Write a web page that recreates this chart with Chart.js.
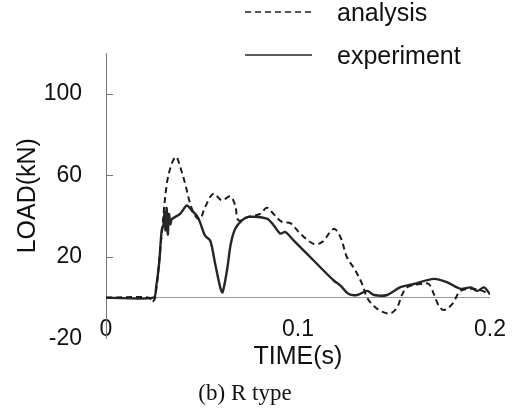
<!DOCTYPE html>
<html>
<head>
<meta charset="utf-8">
<script src="https://cdn.jsdelivr.net/npm/chart.js@4.4.1/dist/chart.umd.min.js"></script>
<style>
  body { margin: 0; background: #fff; }
</style>
</head>
<body>
<canvas id="myChart" width="516" height="412"></canvas>
<script>
var seriesNames = ['analysis', 'experiment'];

var anaTime = [0, 0.0225, 0.0238, 0.0256, 0.029, 0.0317, 0.0343, 0.0365, 0.0386, 0.0412, 0.0438, 0.0464, 0.049,
    0.0516, 0.056, 0.0603, 0.0647, 0.0673, 0.069, 0.0742, 0.0803, 0.0838, 0.0873, 0.0916, 0.096, 0.1012,
    0.1081, 0.1125, 0.1186, 0.1221, 0.1255, 0.1299, 0.1334, 0.136, 0.1395, 0.1438, 0.1482, 0.1516, 0.1543,
    0.1569, 0.1638, 0.1681, 0.1708, 0.1734, 0.176, 0.1803, 0.1847, 0.1916, 0.2];
var anaLoad = [0, 0, -2.3, 0, 31, 56, 65.8, 69.1, 64.2, 56, 46.2, 40.2, 38.6,
    44.4, 51, 47.7, 49.7, 45.2, 37.9, 39.6, 41.1, 44.1, 41, 37.1, 36.5, 31.4,
    26.4, 27.2, 33.7, 29.7, 19.8, 13.3, 6.7, 0, -4.1, -6.9, -7.7, -4.8, 1.6,
    5.1, 6.7, 6.7, 1.6, -4.1, -6.1, -3.2, 3.3, 4.3, 2];

var expTime = [0, 0.0247, 0.0261, 0.0278, 0.029, 0.03, 0.0305, 0.031, 0.0316, 0.0322, 0.0328, 0.0335, 0.0343,
    0.0386, 0.0421, 0.0447, 0.0473, 0.049, 0.0516, 0.0543, 0.0569, 0.0595, 0.0607, 0.063, 0.065, 0.0673,
    0.0708, 0.0742, 0.0838, 0.0873, 0.0908, 0.0934, 0.0977, 0.1047, 0.1116, 0.1186, 0.1221, 0.1264, 0.1308,
    0.136, 0.1395, 0.1464, 0.1534, 0.1603, 0.1708, 0.1777, 0.1847, 0.1899, 0.1934, 0.1969, 0.2];
var expLoad = [0, 0, 5.1, 18.2, 33, 36, 42, 33, 44, 31, 41, 36, 38.5,
    41.1, 45.2, 42.7, 40.2, 36.9, 30.4, 27.9, 16.4, 5, 2.6, 13.3, 26.4, 33.8,
    37.9, 39.6, 38.8, 35.5, 31.4, 32.2, 28.1, 21.5, 14.9, 8.4, 5.9, 1.8, 1.3,
    3.3, 1.3, 1.3, 5.1, 6.7, 9.2, 7.5, 4.3, 5, 3.3, 5, 1.6];

var xTickValues = [0, 0.1, 0.2];
var yTickValues = [-20, 0, 20, 60, 100];

function toPoints(xs, ys) {
    return xs.map(function(x, i) { return { x: x, y: ys[i] }; });
}

var tickFont = { family: 'Liberation Sans, Arial, sans-serif', size: 23 };
var titleFont = { family: 'Liberation Sans, Arial, sans-serif', size: 25 };

// legend drawn by hand, lines stacked on the right
var customLegend = {
    id: 'customLegend',
    afterDraw: function(chart) {
        var ctx = chart.ctx;
        var rows = [12, 55];
        ctx.save();
        chart.data.datasets.forEach(function(ds, i) {
            ctx.strokeStyle = ds.borderColor;
            ctx.lineWidth = 1.6;
            ctx.setLineDash(ds.borderDash || []);
            ctx.beginPath();
            ctx.moveTo(245, rows[i]);
            ctx.lineTo(312, rows[i]);
            ctx.stroke();
            ctx.setLineDash([]);
            ctx.fillStyle = '#111';
            ctx.font = '25px Liberation Sans, Arial, sans-serif';
            ctx.textBaseline = 'middle';
            ctx.fillText(ds.label, 337, rows[i] + 2);
        });
        ctx.restore();
    }
};

// short tick marks pointing into the plot
var innerTicks = {
    id: 'innerTicks',
    afterDraw: function(chart) {
        var ctx = chart.ctx;
        var y = chart.scales.y;
        ctx.save();
        ctx.strokeStyle = '#777';
        ctx.lineWidth = 1;
        [20, 60, 100].forEach(function(v) {
            var py = Math.round(y.getPixelForValue(v)) + 0.5;
            ctx.beginPath();
            ctx.moveTo(y.right, py);
            ctx.lineTo(y.right + 7, py);
            ctx.stroke();
        });
        ctx.restore();
    }
};

var ctx = document.getElementById('myChart').getContext('2d');
var chart = new Chart(ctx, {
    type: 'line',
    data: {
        datasets: [{
            label: seriesNames[0],
            data: toPoints(anaTime, anaLoad),
            borderColor: '#1c1c1c',
            borderWidth: 2,
            borderDash: [6, 4],
            tension: 0.35,
            pointRadius: 0,
            fill: false
        }, {
            label: seriesNames[1],
            data: toPoints(expTime, expLoad),
            borderColor: '#262626',
            borderWidth: 2.4,
            tension: 0.3,
            pointRadius: 0,
            fill: false
        }]
    },
    options: {
        responsive: false,
        animation: false,
        layout: { padding: { top: 53, right: 26, left: 0, bottom: 0 } },
        plugins: {
            legend: { display: false },
            tooltip: { enabled: false },
            title: {
                display: true,
                position: 'bottom',
                text: '(b) R type',
                color: '#111',
                font: { family: 'Liberation Serif, Times New Roman, serif', size: 23, weight: 'normal' },
                padding: { top: 0, bottom: 4 }
            }
        },
        scales: {
            x: {
                type: 'linear',
                min: 0,
                max: 0.2,
                afterBuildTicks: function(scale) {
                    scale.ticks = xTickValues.map(function(v) { return { value: v }; });
                },
                afterFit: function(scale) { scale.height = 42; },
                border: { display: false },
                grid: { display: false, drawTicks: false },
                ticks: {
                    mirror: true,
                    padding: -5,
                    color: '#111',
                    font: tickFont,
                    maxRotation: 0,
                    autoSkip: false,
                    callback: function(v) { return v === 0 ? '0' : String(v); }
                },
                title: {
                    display: true,
                    text: 'TIME(s)',
                    color: '#111',
                    font: titleFont,
                    padding: { top: 0, bottom: 8 }
                }
            },
            y: {
                min: -20,
                max: 120,
                afterBuildTicks: function(scale) {
                    scale.ticks = yTickValues.map(function(v) { return { value: v }; });
                },
                afterFit: function(scale) { scale.width = 106; },
                border: { display: true, color: '#777', width: 1 },
                grid: {
                    drawTicks: false,
                    color: function(c) { return c.tick && c.tick.value === 0 ? '#999' : 'rgba(0,0,0,0)'; }
                },
                ticks: {
                    padding: 24,
                    color: '#111',
                    font: tickFont,
                    callback: function(v) { return v === 0 ? '' : String(v); }
                },
                title: {
                    display: true,
                    text: 'LOAD(kN)',
                    color: '#111',
                    font: titleFont,
                    padding: { top: 13, bottom: 0 }
                }
            }
        }
    },
    plugins: [customLegend, innerTicks]
});
</script>
</body>
</html>
